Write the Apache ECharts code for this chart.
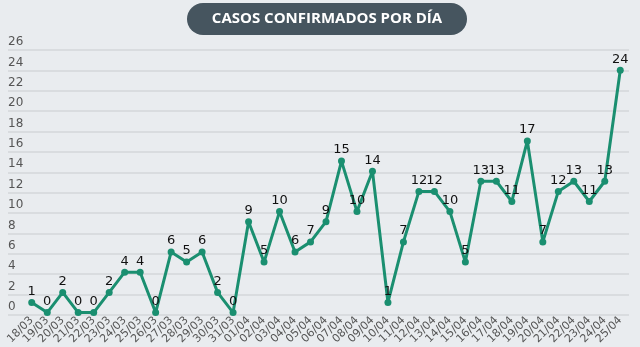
<!DOCTYPE html>
<html>
<head>
<meta charset="utf-8">
<script src="https://cdn.jsdelivr.net/npm/echarts@6/dist/echarts.min.js"></script>
<style>
  html, body { margin: 0; padding: 0; background: #e9ecef; }
  #chart { width: 640px; height: 347px; }
</style>
</head>
<body>
<div id="chart"></div>
<script>
// Daily confirmed cases, 18 March to 25 April
const dates = [
  '18/03','19/03','20/03','21/03','22/03','23/03','24/03','25/03','26/03','27/03',
  '28/03','29/03','30/03','31/03','01/04','02/04','03/04','04/04','05/04','06/04',
  '07/04','08/04','09/04','10/04','11/04','12/04','13/04','14/04','15/04','16/04',
  '17/04','18/04','19/04','20/04','21/04','22/04','23/04','24/04','25/04'
];
const cases = [
  1, 0, 2, 0, 0, 2, 4, 4, 0, 6,
  5, 6, 2, 0, 9, 5, 10, 6, 7, 9,
  15, 10, 14, 1, 7, 12, 12, 10, 5, 13,
  13, 11, 17, 7, 12, 13, 11, 13, 24
];
const yMin = 0, yMax = 26, yStep = 2;
const titleText = 'CASOS CONFIRMADOS POR DÍA';

const lineColor = '#1a8f70';
const labelFont = 'DejaVu Sans, Verdana, sans-serif';

const chart = echarts.init(document.getElementById('chart'), null, { renderer: 'canvas' });
chart.setOption({
  backgroundColor: '#e9ecef',
  animation: false,
  title: {
    left: 187, top: 3, padding: 0,
    text: '{t|' + titleText + '}',
    textStyle: {
      rich: {
        t: {
          width: 280, height: 32, lineHeight: 32, align: 'center',
          backgroundColor: '#46555f', borderRadius: 16,
          color: '#ffffff', fontWeight: 'bold', fontSize: 15,
          fontFamily: 'Open Sans, Lato, sans-serif'
        }
      }
    }
  },
  grid: [
    // wide grid carrying the horizontal rules and value labels
    { left: 8, right: 11, top: 50, bottom: 32 },
    // data grid
    { left: 24, right: 12, top: 50, bottom: 32 }
  ],
  xAxis: [
    { gridIndex: 0, type: 'category', data: dates, show: false },
    {
      gridIndex: 1, type: 'category', data: dates, boundaryGap: true,
      axisLine: { show: false }, axisTick: { show: false },
      axisLabel: {
        interval: 0, rotate: 45, margin: 6,
        color: '#555', fontSize: 11, fontFamily: labelFont
      }
    }
  ],
  yAxis: [
    {
      gridIndex: 0, type: 'value', min: yMin, max: yMax, interval: yStep,
      axisLine: { show: false }, axisTick: { show: false },
      splitLine: { lineStyle: { color: '#d3d7da', width: 1.5 } },
      axisLabel: {
        inside: true, margin: 0, align: 'left', verticalAlign: 'bottom',
        padding: [0, 0, 2, 0],
        color: '#555', fontSize: 12, fontFamily: labelFont
      }
    },
    {
      gridIndex: 1, type: 'value', min: yMin, max: yMax, interval: yStep,
      show: false, splitLine: { show: false }
    }
  ],
  series: [{
    type: 'line',
    xAxisIndex: 1, yAxisIndex: 1,
    data: cases,
    color: lineColor,
    lineStyle: { width: 3, color: lineColor },
    symbol: 'circle', symbolSize: 7,
    itemStyle: { color: lineColor },
    label: {
      show: true, position: 'top', distance: 1,
      color: '#111', fontSize: 13, fontFamily: labelFont
    }
  }]
});
</script>
</body>
</html>
